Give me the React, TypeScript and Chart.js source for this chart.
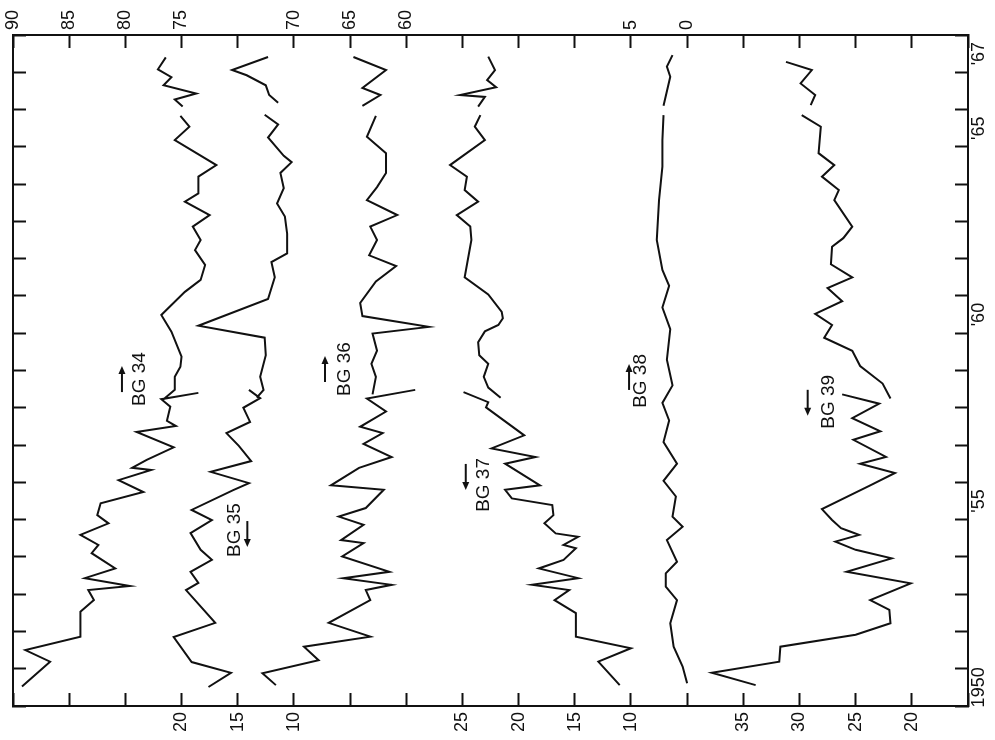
import React, { useEffect, useRef } from 'react';
import { Chart, registerables } from 'chart.js';

Chart.register(...registerables);

const FONT = '"Liberation Sans", Arial, sans-serif';

// Axis tick labels (top / bottom value axes, one slot per tick position 0..17)
const TOP_TICK_LABELS = ['90', '85', '80', '75', '', '70', '65', '60', '', '', '', '5', '0', '', '', '', '', ''];
const BOTTOM_TICK_LABELS = ['', '', '', '20', '15', '10', '', '', '25', '20', '15', '10', '', '35', '30', '25', '20', ''];

// Year labels on the time axis (placed in the middle of their year)
const YEAR_LABEL_POSITIONS = [1950.5, 1955.5, 1960.5, 1965.5, 1967.5];
const YEAR_LABEL_TEXTS = ['1950', "'55", "'60", "'65", "'67"];

// ---- series data (null = break in the curve) ----
const BG34_YEARS = [1967.40, 1967.08, 1966.87, 1966.65, 1966.43, 1966.27, 1966.08, null,
  1965.83, 1965.54, 1965.18, 1964.51, 1964.20, 1963.75, 1963.53, 1963.17, 1962.86, 1962.50, 1962.23, 1961.83, 1961.43, 1961.11, 1960.49, 1960.04, 1959.37, 1959.10, 1958.83, 1958.48, 1958.23, null,
  1958.40, 1958.23, 1958.03, 1957.65, 1957.51, 1957.35, 1956.94, 1956.60, 1956.39, 1956.33, 1956.06, 1955.74, 1955.44, 1955.12, 1954.90, 1954.59, 1954.32, 1954.10, 1953.69, 1953.43, 1953.22, 1953.11, 1952.84, 1952.53, 1951.86, 1951.50, 1951.19, 1950.52];
const BG34_VALUES = [76.4, 77.1, 75.9, 76.6, 73.7, 75.6, 74.9, null,
  75.1, 74.3, 75.6, 71.9, 73.5, 73.5, 74.7, 72.5, 74.0, 73.3, 73.8, 72.9, 73.3, 74.7, 76.8, 75.9, 75.0, 75.1, 75.6, 75.6, 76.6, null,
  73.5, 76.8, 76.0, 76.3, 75.5, 79.0, 75.7, 78.1, 79.4, 77.7, 80.6, 78.4, 82.2, 82.5, 81.5, 84.0, 82.4, 83.0, 80.9, 83.6, 79.6, 83.3, 82.8, 84.0, 84.0, 88.9, 86.7, 89.2];

const BG35_YEARS = [1967.41, 1967.06, 1966.92, 1966.65, 1966.39, 1966.18, null,
  1965.86, 1965.60, 1965.25, 1964.76, 1964.59, 1964.30, 1963.89, 1963.48, 1963.13, 1962.67, 1962.14, 1961.91, 1961.50, 1960.92, 1960.20, 1959.88, 1959.41, 1958.83, 1958.48, 1958.27, null,
  1958.48, 1958.26, 1958.00, 1957.62, 1957.32, 1956.98, 1956.57, 1956.28, 1955.98, 1955.79, 1955.26, 1954.99, 1954.64, 1954.19, 1953.92, 1953.60, 1953.30, 1953.11, 1952.84, 1952.23, 1951.85, 1951.18, 1950.89, 1950.51];
const BG35_VALUES = [12.3, 15.5, 14.2, 12.5, 12.2, 11.4, null,
  12.6, 11.4, 12.3, 10.9, 10.2, 11.2, 10.9, 11.5, 10.8, 10.6, 10.6, 12.0, 11.7, 12.3, 18.5, 12.6, 12.5, 13.0, 12.7, 13.3, null,
  14.0, 13.0, 14.5, 13.9, 16.0, 14.9, 13.8, 17.4, 14.0, 15.4, 19.1, 17.3, 19.2, 18.3, 17.3, 19.2, 18.5, 19.6, 18.8, 17.0, 20.7, 19.1, 15.6, 17.6];

const BG36_YEARS = [1967.41, 1967.06, 1966.58, 1966.39, 1966.10, null,
  1965.83, 1965.27, 1964.83, 1964.30, 1963.92, 1963.57, 1963.17, 1962.86, 1962.50, 1962.09, 1961.80, 1961.39, 1960.81, 1960.46, 1960.17, 1959.99, 1959.53, 1959.18, 1958.83, 1958.36, null,
  1958.48, 1958.25, 1957.90, 1957.49, 1957.32, 1957.03, 1956.68, 1956.39, 1955.92, 1955.80, 1955.31, 1955.08, 1954.86, 1954.45, 1954.37, 1954.01, 1953.60, 1953.43, 1953.25, 1953.11, 1952.84, 1952.23, 1951.86, 1951.59, 1951.23, 1950.88, 1950.56];
const BG36_VALUES = [64.7, 61.8, 63.9, 62.3, 63.9, null,
  62.7, 63.5, 61.8, 61.8, 62.6, 63.5, 60.8, 63.2, 62.6, 63.3, 60.9, 62.7, 64.1, 63.9, 58.0, 63.0, 62.6, 63.1, 62.7, 63.0, null,
  59.2, 63.5, 61.8, 64.1, 62.1, 63.8, 61.3, 64.2, 66.7, 62.0, 63.6, 66.0, 63.8, 65.8, 63.8, 65.7, 61.5, 65.6, 61.3, 63.6, 63.2, 66.9, 63.2, 69.1, 67.8, 72.8, 71.6];

const BG37_YEARS = [1967.42, 1967.06, 1966.79, 1966.60, 1966.39, 1966.34, 1966.08, null,
  1965.85, 1965.54, 1965.18, 1964.51, 1964.20, 1963.84, 1963.53, 1963.17, 1962.86, 1962.50, 1961.50, 1961.04, 1960.57, 1960.40, 1960.22, 1960.05, 1959.76, 1959.41, 1959.18, 1958.83, 1958.54, 1958.27, null,
  1958.42, 1958.15, 1958.01, 1957.26, 1956.91, 1956.68, 1956.50, 1955.92, 1955.80, 1955.57, 1955.39, 1955.12, 1954.90, 1954.63, 1954.54, 1954.32, 1954.23, 1953.92, 1953.69, 1953.43, 1953.25, 1953.11, 1952.84, 1952.49, 1951.86, 1951.55, 1951.19, 1950.56];
const BG37_VALUES = [22.7, 22.1, 22.8, 22.0, 25.2, 23.0, 23.6, null,
  23.4, 23.9, 23.0, 26.1, 24.6, 24.8, 23.6, 25.5, 24.3, 24.2, 24.8, 22.7, 21.5, 21.4, 21.8, 23.0, 23.6, 23.5, 22.7, 23.1, 22.7, 21.6, null,
  24.9, 22.7, 22.9, 19.5, 22.4, 18.5, 21.2, 18.1, 21.2, 20.6, 17.0, 16.9, 17.7, 16.7, 14.7, 16.0, 14.9, 16.0, 18.2, 14.7, 18.8, 15.5, 16.8, 14.9, 14.9, 10.0, 12.9, 11.0];

const BG38_YEARS = [1967.46, 1967.15, 1966.88, 1966.10, null,
  1965.85, 1965.18, 1964.47, 1963.57, 1962.50, 1961.70, 1961.27, 1960.69, 1960.11, 1959.29, 1958.60, 1958.13, 1957.66, 1957.08, 1956.50, 1956.04, 1955.62, 1955.08, 1954.81, 1954.45, 1953.87, 1953.56, 1953.20, 1952.84, 1952.22, 1951.59, 1951.06, 1950.61];
const BG38_VALUES = [1.3, 1.8, 1.5, 2.1, null,
  2.1, 2.2, 2.2, 2.5, 2.7, 2.2, 1.6, 2.2, 1.5, 1.8, 1.3, 2.2, 1.6, 2.1, 0.9, 2.1, 1.0, 1.3, 0.4, 1.8, 0.9, 1.9, 1.9, 0.9, 1.5, 1.2, 0.4, 0.0];

const BG39_YEARS = [1967.28, 1967.06, 1966.70, 1966.39, 1966.12, null,
  1965.85, 1965.54, 1964.83, 1964.51, 1964.20, 1963.84, 1963.57, 1962.86, 1962.55, 1962.32, 1961.85, 1961.50, 1961.21, 1960.86, 1960.52, 1960.22, 1959.88, 1959.53, 1959.12, 1958.65, 1958.25, null,
  1958.36, 1958.11, 1957.72, 1957.37, 1957.14, 1956.68, 1956.50, 1956.25, 1955.92, 1955.28, 1954.99, 1954.77, 1954.68, 1954.59, 1954.41, 1954.19, 1953.96, 1953.60, 1953.29, 1952.84, 1952.58, 1952.22, 1951.91, 1951.59, 1951.19, 1950.89, 1950.56];
const BG39_VALUES = [31.2, 28.9, 29.9, 28.6, 29.0, null,
  29.8, 28.1, 28.3, 26.9, 28.0, 26.5, 26.9, 25.3, 26.1, 27.1, 27.2, 25.3, 27.5, 26.2, 28.6, 27.1, 27.8, 25.3, 24.6, 22.6, 21.9, null,
  26.2, 22.9, 25.3, 22.8, 25.2, 22.3, 24.6, 21.5, 23.7, 28.0, 27.1, 26.3, 25.5, 24.7, 26.8, 25.0, 21.8, 25.8, 20.1, 23.7, 22.0, 21.9, 25.0, 31.7, 31.8, 37.8, 33.9];

// each series has its own (reversed) value axis sharing the plot width
const SERIES = [
  { label: 'BG 34', years: BG34_YEARS, values: BG34_VALUES, axis: 'x34', min: 5, max: 90 },
  { label: 'BG 35', years: BG35_YEARS, values: BG35_VALUES, axis: 'x35', min: -50, max: 35 },
  { label: 'BG 36', years: BG36_YEARS, values: BG36_VALUES, axis: 'x36', min: 10, max: 95 },
  { label: 'BG 37', years: BG37_YEARS, values: BG37_VALUES, axis: 'x37', min: -20, max: 65 },
  { label: 'BG 38', years: BG38_YEARS, values: BG38_VALUES, axis: 'x38', min: -25, max: 60 },
  { label: 'BG 39', years: BG39_YEARS, values: BG39_VALUES, axis: 'x39', min: 15, max: 100 },
];

// series labels with direction arrows (position in each series' own units)
const ANNOTATIONS = [
  { text: 'BG 34', axis: 'x34', value: 78.7, year: 1958.77, up: true, dx: -18, dy: 0 },
  { text: 'BG 35', axis: 'x35', value: 15.3, year: 1954.72, up: false, dx: 13, dy: 4 },
  { text: 'BG 36', axis: 'x36', value: 65.45, year: 1959.04, up: true, dx: -20, dy: 0 },
  { text: 'BG 37', axis: 'x37', value: 23.1, year: 1955.93, up: false, dx: -18, dy: -8 },
  { text: 'BG 38', axis: 'x38', value: 4.1, year: 1958.72, up: true, dx: -12, dy: -4 },
  { text: 'BG 39', axis: 'x39', value: 27.4, year: 1958.16, up: false, dx: -21, dy: 1 },
];

const INK = '#111';
const TICK_FONT_SIZE = 18;

const textPlugin = {
  id: 'rotatedTexts',
  afterDraw(chart: any) {
    const { ctx, chartArea, scales } = chart;
    const yS = scales.yRight;
    ctx.save();
    ctx.fillStyle = INK;
    ctx.strokeStyle = INK;
    ctx.textAlign = 'center';
    ctx.textBaseline = 'middle';
    ctx.font = `${TICK_FONT_SIZE}px ${FONT}`;
    YEAR_LABEL_POSITIONS.forEach((v, i) => {
      const y = yS.getPixelForValue(v);
      ctx.save();
      ctx.translate(chartArea.right + 11, y);
      ctx.rotate(-Math.PI / 2);
      ctx.fillText(YEAR_LABEL_TEXTS[i], 0, 0);
      ctx.restore();
    });
    ctx.font = `19px ${FONT}`;
    ANNOTATIONS.forEach((a) => {
      const x = scales[a.axis].getPixelForValue(a.value);
      const y = scales.yLeft.getPixelForValue(a.year);
      ctx.save();
      ctx.translate(x, y);
      ctx.rotate(-Math.PI / 2);
      ctx.fillText(a.text, 0, 0);
      ctx.restore();
      // arrow
      const ax = x + a.dx;
      const cy = y + a.dy;
      const half = 13;
      const tipY = a.up ? cy - half : cy + half;
      const tailY = a.up ? cy + half : cy - half;
      const dir = a.up ? 1 : -1;
      ctx.lineWidth = 2;
      ctx.beginPath();
      ctx.moveTo(ax, tailY);
      ctx.lineTo(ax, tipY + dir * 5);
      ctx.stroke();
      ctx.beginPath();
      ctx.moveTo(ax, tipY);
      ctx.lineTo(ax - 3.5, tipY + dir * 8);
      ctx.lineTo(ax + 3.5, tipY + dir * 8);
      ctx.closePath();
      ctx.fill();
    });
    ctx.restore();
  },
};

function fixedSize(size: number) {
  return (s: any) => {
    if (s.isHorizontal()) s.height = size; else s.width = size;
    s.paddingLeft = 0;
    s.paddingRight = 0;
    s.paddingTop = 0;
    s.paddingBottom = 0;
  };
}

function frameAxis(position: string, extra: any) {
  return {
    type: 'linear',
    position,
    grid: { drawOnChartArea: false, drawTicks: true, tickLength: -13, tickWidth: 2, tickColor: INK },
    border: { display: true, color: INK, width: 2 },
    ...extra,
  };
}

export default function App() {
  const canvasRef = useRef<HTMLCanvasElement | null>(null);

  useEffect(() => {
    if (!canvasRef.current) return;
    const datasets = SERIES.map((s) => ({
      label: s.label,
      data: s.years.map((yr, i) => (yr === null ? { x: null, y: null } : { x: s.values[i], y: yr })),
      xAxisID: s.axis,
      yAxisID: 'yLeft',
      borderColor: INK,
      borderWidth: 2,
      pointRadius: 0,
      tension: 0,
      fill: false,
      spanGaps: false,
    }));

    const seriesScales: any = {};
    SERIES.forEach((s) => {
      seriesScales[s.axis] = { type: 'linear', display: false, min: s.min, max: s.max, reverse: true };
    });

    const tickFont = { family: FONT, size: TICK_FONT_SIZE };

    const chart = new Chart(canvasRef.current, {
      type: 'line',
      data: { datasets: datasets as any },
      options: {
        responsive: false,
        animation: false,
        devicePixelRatio: 1,
        events: [],
        layout: { padding: 0, autoPadding: false },
        plugins: { legend: { display: false }, tooltip: { enabled: false } },
        scales: {
          xTop: frameAxis('top', {
            min: 0, max: 17,
            ticks: {
              stepSize: 1, autoSkip: false, minRotation: 90, maxRotation: 90, padding: 18,
              labelOffset: TICK_FONT_SIZE * 1.2,
              color: INK, font: tickFont,
              callback: (v: any) => TOP_TICK_LABELS[Math.round(v)] ?? '',
            },
            afterFit: fixedSize(35),
          }),
          xBottom: frameAxis('bottom', {
            min: 0, max: 17,
            ticks: {
              stepSize: 1, autoSkip: false, minRotation: 90, maxRotation: 90, padding: 19,
              color: INK, font: tickFont,
              callback: (v: any) => BOTTOM_TICK_LABELS[Math.round(v)] ?? '',
            },
            afterFit: fixedSize(34),
          }),
          yLeft: frameAxis('left', {
            min: 1950, max: 1968,
            ticks: { stepSize: 1, display: false },
            afterFit: fixedSize(13),
          }),
          yRight: frameAxis('right', {
            min: 1950, max: 1968,
            ticks: { stepSize: 1, display: false },
            afterFit: fixedSize(27),
          }),
          ...seriesScales,
        },
      } as any,
      plugins: [textPlugin],
    });
    return () => chart.destroy();
  }, []);

  return (
    <div style={{ position: 'fixed', left: 0, top: 0, width: 995, height: 740, background: '#fff' }}>
      <canvas ref={canvasRef} width={995} height={740} style={{ display: 'block' }} />
    </div>
  );
}
